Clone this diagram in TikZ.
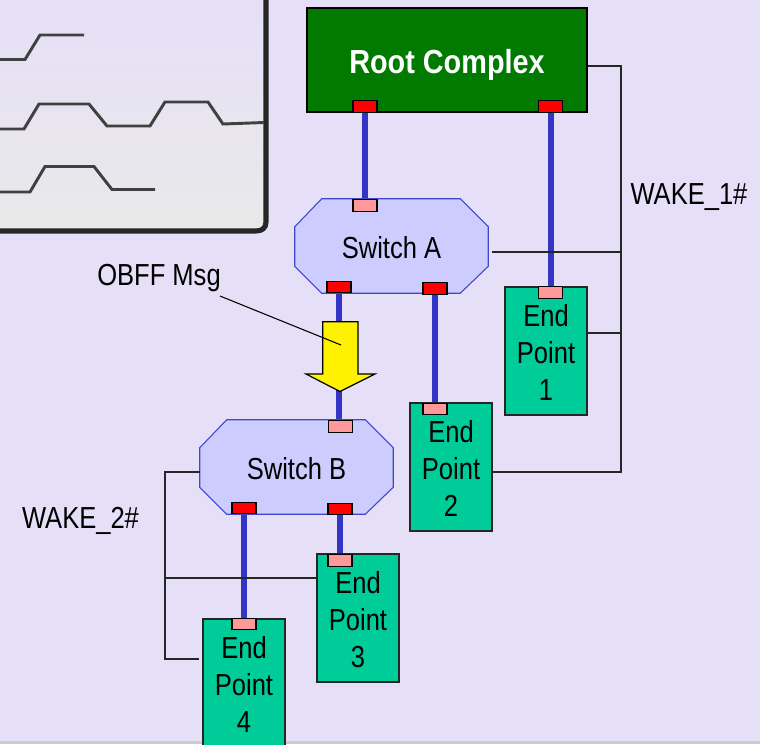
\documentclass[tikz,border=0pt]{standalone}
\usepackage{fontspec}
\setmainfont{Liberation Sans}
\newfontfamily\narrowf[FakeStretch=0.84]{Liberation Sans}
\newfontfamily\narrowbf[FakeStretch=0.865]{Liberation Sans Bold}
\usetikzlibrary{calc}
\pgfdeclarelayer{base}
\pgfdeclarelayer{wires}
\pgfdeclarelayer{shapesl}
\pgfsetlayers{base,wires,shapesl,main}
\definecolor{bgc}{HTML}{E6DFF8}
\definecolor{panelb}{HTML}{E9E9E9}
\definecolor{rootg}{HTML}{007A00}
\definecolor{epg}{HTML}{00CC99}
\definecolor{swf}{HTML}{CCCCFF}
\definecolor{swe}{HTML}{4444CC}
\definecolor{linkb}{HTML}{3535C5}
\definecolor{pinkp}{HTML}{FF9999}
\definecolor{wavec}{HTML}{404040}
\newcommand{\dropa}{\rule{0pt}{18.6pt}}
\newcommand{\dropb}{\rule{0pt}{19.6pt}}
\newcommand{\octagon}[1]{%
  \begin{pgfonlayer}{shapesl}
  \draw[draw=swe,line width=.8pt,fill=swf]
    ($(#1.north west)+(27,0)$) -- ($(#1.north east)+(-28,0)$) -- ($(#1.north east)+(0,28)$)
    -- ($(#1.south east)+(0,-27)$) -- ($(#1.south east)+(-28,0)$) -- ($(#1.south west)+(27,0)$)
    -- ($(#1.south west)+(0,-27)$) -- ($(#1.north west)+(0,28)$) -- cycle;
  \end{pgfonlayer}}
\tikzset{
 x=0.75pt,y=-0.75pt,
 lbl/.style={font=\narrowf\fontsize{22.8}{27.75}\selectfont,text=black,inner sep=0pt,align=center},
 rootbox/.style={draw=black,line width=.8pt,fill=rootg,minimum width=210pt,minimum height=78pt,inner sep=0pt},
 epbox/.style={lbl,draw=black!85,line width=.9pt,fill=epg,minimum width=61.5pt,minimum height=96pt},
 swbox/.style={lbl,minimum width=144.75pt,minimum height=70.5pt},
 portout/.style={draw=black,line width=.8pt,fill=red,minimum width=18pt,minimum height=8.5pt,inner sep=0pt},
 portin/.style={draw=black,line width=.8pt,fill=pinkp,minimum width=18pt,minimum height=8.5pt,inner sep=0pt},
 linkline/.style={draw=linkb,line width=4.5pt},
 wakewire/.style={draw=black!85,line width=.9pt},
 waveline/.style={draw=wavec,line width=2.2pt,line join=miter},
}
\begin{document}
\begin{tikzpicture}
\useasboundingbox (0,0) rectangle (760,744);
\clip (0,0) rectangle (760,744);
\begin{pgfonlayer}{base}
\fill[bgc] (0,0) rectangle (760,744);
\fill[black!12!panelb] (0,741) rectangle (760,744);
\draw[draw=black!85,line width=3.8pt,top color=bgc,bottom color=panelb]
  (-10,-10) -- (266,-10) -- (266,222) .. controls (266,228) and (262,231) .. (256,231) -- (-10,231) -- cycle;
\draw[waveline] (0,59.5) -- (25,59.5) -- (40,35) -- (84,35);
\draw[waveline] (0,129) -- (24,129) -- (39,104) -- (89,104) -- (107,126) -- (150,126) -- (165,102) -- (208,102) -- (223,124) -- (264,122.5);
\draw[waveline] (0,192) -- (30,192) -- (45,166.5) -- (94,166.5) -- (112,189.5) -- (155,189.5);
\end{pgfonlayer}

\node[rootbox] (root) at (447,60) {};
\node[font=\narrowbf\fontsize{25}{28}\selectfont,text=white,inner sep=0pt] (rootlabel) at (447,64.5) {Root Complex};
\node[swbox] (swa) at (391.5,246) {\dropb Switch A};
\node[swbox] (swb) at (296.5,467) {\dropb Switch B};
\octagon{swa}
\octagon{swb}
\node[epbox] (ep1) at (546,351) {\dropa End\\Point\\1};
\node[epbox] (ep2) at (451,467) {\dropa End\\Point\\2};
\node[epbox] (ep3) at (358,618) {\dropa End\\Point\\3};
\node[epbox] (ep4) at (244,683) {\dropa End\\Point\\4};

\node[portout] (rp1) at (365,106.5) {};
\node[portout] (rp2) at (550.5,106.5) {};
\node[portin]  (sai) at (365,205.5) {};
\node[portout] (sao1) at (339,287) {};
\node[portout] (sao2) at (435,288.5) {};
\node[portin]  (sbi) at (340.5,426.5) {};
\node[portout] (sbo1) at (244,508) {};
\node[portout] (sbo2) at (340,509) {};
\node[portin]  (e1i) at (550.5,292.5) {};
\node[portin]  (e2i) at (435,409) {};
\node[portin]  (e3i) at (340,560.5) {};
\node[portin]  (e4i) at (244,624) {};

\begin{pgfonlayer}{wires}
\draw[linkline] (rp1) -- (sai);
\draw[linkline] (rp2) -- (e1i);
\draw[linkline] (sao1) -- (sao1 |- sbi);
\draw[linkline] (sao2) -- (e2i);
\draw[linkline] (sbo1) -- (e4i);
\draw[linkline] (sbo2) -- (e3i);
\end{pgfonlayer}

% WAKE_1# wiring
\coordinate (w1t) at (621,66);
\coordinate (w1b) at (621,472);
\coordinate (w1a) at (621,252);
\coordinate (w1e) at (621,333);
\coordinate (w1s) at (492,252);
\draw[wakewire] (root.east |- w1t) -- (w1t) -- (w1b) -- (ep2.east |- w1b);
\draw[wakewire] (w1s) -- (w1a);
\draw[wakewire] (ep1.east |- w1e) -- (w1e);
% WAKE_2# wiring
\coordinate (w2t) at (165,472);
\coordinate (w2b) at (165,659);
\coordinate (w2m) at (165,578);
\coordinate (w2e) at (199,659);
\draw[wakewire] (swb.west |- w2t) -- (w2t) -- (w2b) -- (w2e);
\draw[wakewire] (w2m) -- (ep3.west |- w2m);

% OBFF arrow
\draw[draw=black,line width=.9pt,fill=yellow]
  (322.7,321.7) -- (358,321.7) -- (358,374) -- (375,374) -- (340,391.5) -- (306,374) -- (322.7,374) -- cycle;
\coordinate (arrowpt) at (341,345);
\coordinate (msgend) at (220,296);
\node[lbl] (msg) at (159,278) {OBFF Msg};
\draw[draw=black,line width=.8pt] (msgend) -- (arrowpt);

\node[lbl] (wake1) at (689,197.5) {WAKE\_1\#};
\node[lbl] (wake2) at (80.5,521) {WAKE\_2\#};
\end{tikzpicture}
\end{document}
